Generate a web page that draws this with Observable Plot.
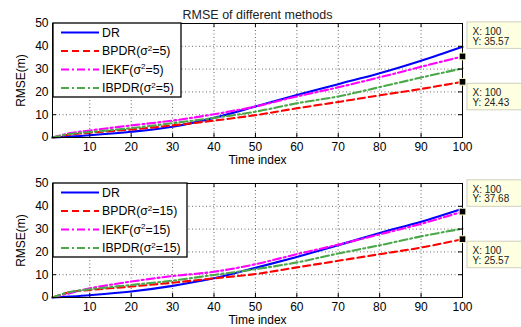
<!DOCTYPE html>
<html><head><meta charset="utf-8">
<script src="https://cdn.jsdelivr.net/npm/d3@7"></script>
<script src="https://cdn.jsdelivr.net/npm/@observablehq/plot@0.6"></script>
<style>
body{margin:0;background:#fff;}
#chart{position:relative;width:521px;height:327px;overflow:hidden;font-family:"Liberation Sans",Arial,sans-serif;}
#chart svg{position:absolute;left:0;overflow:visible;}
</style></head><body><div id="chart"></div>
<script>
// ---- data ----
const time = [1, 5, 10, 20, 30, 40, 50, 60, 70, 80, 90, 100];
const seriesNames = ["DR", "BPDR", "IEKF", "IBPDR"];
// panel 1 (sigma^2 = 5)
const dr5    = [0, 0.4, 1.0, 2.5, 4.7, 8.6, 13.6, 18.6, 23.4, 28.2, 33.7, 39.8];
const bpdr5  = [0, 1.2, 2.1, 3.5, 5.3, 7.4, 9.8, 12.8, 15.6, 18.5, 21.3, 24.43];
const iekf5  = [0, 1.8, 3.1, 5.3, 7.4, 10.2, 13.6, 18.0, 22.0, 26.4, 31.0, 35.57];
const ibpdr5 = [0, 1.5, 2.4, 4.1, 6.3, 8.6, 11.3, 15.0, 18.0, 22.1, 26.3, 30.3];
// panel 2 (sigma^2 = 15)
const dr15    = [0, 0.4, 1.0, 2.6, 5.1, 8.4, 13.0, 17.8, 22.9, 28.3, 33.2, 38.9];
const bpdr15  = [0, 2.3, 3.3, 4.8, 6.5, 8.4, 10.3, 13.2, 16.1, 19.0, 21.9, 25.57];
const iekf15  = [0, 1.8, 4.0, 7.0, 9.4, 11.3, 14.6, 19.0, 23.2, 27.7, 32.3, 37.68];
const ibpdr15 = [0, 2.3, 3.6, 5.5, 7.4, 9.9, 12.4, 15.4, 19.3, 22.9, 26.8, 30.2];
// data tips
const tipX = [100, 100];
const tipY5 = [35.57, 24.43];
const tipY15 = [37.68, 25.57];
// ticks
const xTicks = [10, 20, 30, 40, 50, 60, 70, 80, 90, 100];
const yTicks = [0, 10, 20, 30, 40, 50];
const titleText = "RMSE of different methods";

// ---- styles ----
const styles = [
  {color: "#0000ff", dash: null},
  {color: "#ff0000", dash: "7,4"},
  {color: "#ff00ff", dash: "8,3,2,3"},
  {color: "#4aa84a", dash: "8,3,2,3"}
];
const W = 521, ML = 52, MR = 59, MT = 23;

const panels = [
  {top: 0, height: 163, mb: 26, suffix: "5", series: [dr5, bpdr5, iekf5, ibpdr5], tips: tipY5, legendW: 128, tipPos: [["above", 7.5], ["below", 2]], title: true},
  {top: 160, height: 167, mb: 30, suffix: "15", series: [dr15, bpdr15, iekf15, ibpdr15], tips: tipY15, legendW: 134, tipPos: [["above", 4.8], ["below", 2.5]], title: false}
];

const chart = document.getElementById("chart");

for (const p of panels) {
  const FH = p.height - MT - p.mb, FW = W - ML - MR;
  const gridStyle = {stroke: "#000", strokeOpacity: 0.75, strokeDasharray: "1,2.5", strokeWidth: 0.8};
  const marks = [
    Plot.ruleX(xTicks.filter(d => d < 100), {x: d => d, ...gridStyle}),
    Plot.ruleY(yTicks.filter(d => d > 0 && d < 50), {y: d => d, ...gridStyle}),
    ...styles.map((s, k) => Plot.line(time.map((t, i) => ({t, v: p.series[k][i]})), {
      x: "t", y: "v", stroke: s.color, strokeWidth: 2.1, strokeDasharray: s.dash, curve: "catmull-rom"
    })),
    Plot.ruleX(xTicks, {x: d => d, insetTop: FH - 4, stroke: "#000"}),
    Plot.ruleX(xTicks, {x: d => d, insetBottom: FH - 4, stroke: "#000"}),
    Plot.ruleY(yTicks, {y: d => d, insetRight: FW - 4, stroke: "#000"}),
    Plot.ruleY(yTicks, {y: d => d, insetLeft: FW - 4, stroke: "#000"}),
    Plot.frame({stroke: "#000", strokeWidth: 1})
  ];
  if (p.title) marks.push(Plot.text([titleText], {frameAnchor: "top", dy: -13, fontSize: 12.5, fill: "#222"}));
  marks.push(Plot.dot(tipX.map((x, i) => ({x, y: p.tips[i]})), {x: "x", y: "y", symbol: "square", r: 3.8, fill: "#000", stroke: "#ffffc8", strokeWidth: 1}));

  const svg = Plot.plot({
    width: W, height: p.height,
    marginLeft: ML, marginRight: MR, marginTop: MT, marginBottom: p.mb,
    style: {fontFamily: '"Liberation Sans", Arial, sans-serif', fontSize: "12px", color: "#000", background: "transparent", overflow: "visible"},
    x: {domain: [1, 100], ticks: xTicks, tickSize: 0, tickPadding: 5, label: "Time index", labelAnchor: "center", labelOffset: 26, labelArrow: false},
    y: {domain: [0, 50], ticks: yTicks, tickSize: 0, tickPadding: 4, label: "RMSE(m)", labelAnchor: "center", labelOffset: 36, labelArrow: false},
    marks
  });
  svg.style.top = p.top + "px";
  chart.appendChild(svg);

  const xs = svg.scale("x"), ys = svg.scale("y");
  const g = d3.select(svg).append("g").attr("text-anchor", "start");

  // legend
  const lg = g.append("g").attr("transform", `translate(${ML + 1},${MT})`);
  lg.append("rect").attr("width", p.legendW).attr("height", 74).attr("fill", "#fff").attr("stroke", "#000").attr("stroke-width", 1.3);
  seriesNames.forEach((name, k) => {
    const yy = 9.5 + k * 18.5;
    lg.append("line").attr("x1", 8).attr("x2", 46).attr("y1", yy).attr("y2", yy)
      .attr("stroke", styles[k].color).attr("stroke-width", 2.1)
      .attr("stroke-dasharray", styles[k].dash);
    const t = lg.append("text").attr("x", 49).attr("y", yy).attr("dy", "0.36em")
      .attr("font-size", 12.3).attr("fill", "#000").attr("text-anchor", "start");
    if (k === 0) { t.text(name); }
    else {
      t.append("tspan").text(name + "(σ");
      t.append("tspan").attr("dy", -4.5).attr("font-size", 8).text("2");
      t.append("tspan").attr("dy", 4.5).text("=" + p.suffix + ")");
    }
  });

  // data tips
  p.tips.forEach((v, i) => {
    const py = ys.apply(v);
    const [pos, off] = p.tipPos[i];
    const bh = 26.5;
    const by = pos === "above" ? py - off - bh : py + off;
    const bx = xs.apply(100) + 5;
    g.append("rect").attr("x", bx).attr("y", by).attr("width", 70).attr("height", bh)
      .attr("fill", "#ffffe1").attr("stroke", "#d0d0c0").attr("stroke-width", 1);
    g.append("text").attr("x", bx + 5.5).attr("y", by + 9.5).attr("dy", "0.36em").attr("font-size", 10).attr("fill", "#222").attr("text-anchor", "start").text("X: " + tipX[i]);
    g.append("text").attr("x", bx + 5.5).attr("y", by + 19).attr("dy", "0.36em").attr("font-size", 10).attr("fill", "#222").attr("text-anchor", "start").text("Y: " + v.toFixed(2));
  });
}
</script></body></html>
